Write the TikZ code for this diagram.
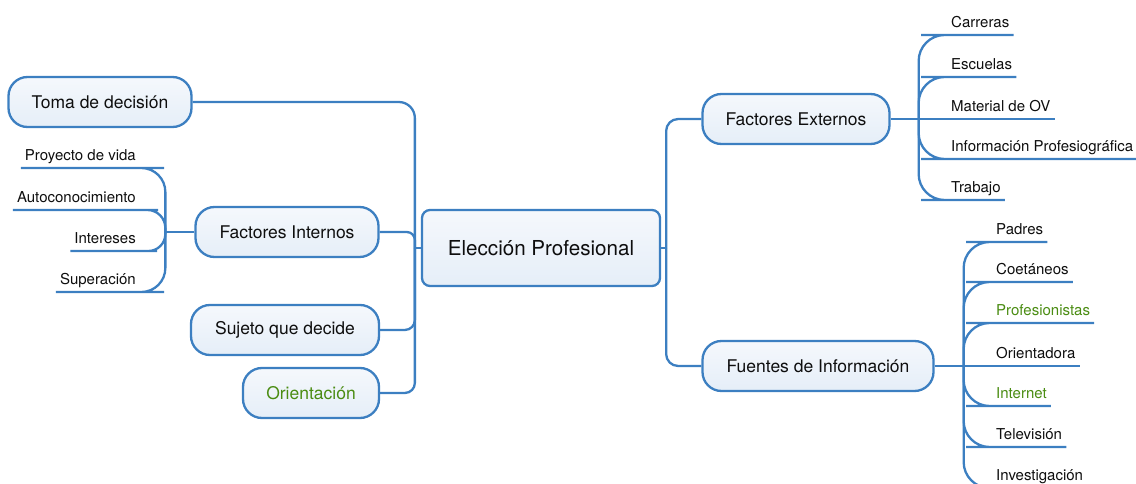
\documentclass[tikz,border=0pt]{standalone}
\usepackage{fontspec}
\setmainfont{TeX Gyre Heros}
\definecolor{lnblue}{HTML}{3C7FC1}
\definecolor{fillA}{HTML}{F5F8FC}
\definecolor{fillB}{HTML}{E5EEF8}
\definecolor{txt}{HTML}{0E0E0E}
\definecolor{grn}{HTML}{4A8C12}
\begin{document}
\begin{tikzpicture}[x=1pt,y=-1pt,
  conn/.style={draw=lnblue,line width=2.3pt},
  topic/.style={draw=lnblue,line width=2.3pt,rounded corners=19pt,top color=fillA,bottom color=fillB,
    minimum height=50pt,inner sep=0pt,text=txt,font=\fontsize{17.5}{20}\selectfont},
  central/.style={topic,rounded corners=8pt,minimum height=76pt,font=\fontsize{20.6}{24}\selectfont},
  leaf/.style={inner xsep=4pt,inner ysep=3pt,text height=11pt,text depth=4pt,text=txt,
    font=\fontsize{15}{18}\selectfont},
  leafR/.style={leaf,anchor=south west},
  leafL/.style={leaf,anchor=south east}]
\useasboundingbox (0,0) rectangle (1136,484);
\clip (0,0) rectangle (1136,484);
% main nodes
\node[central,minimum width=238pt] (ep) at (541,248) {Elección Profesional};
\node[topic,minimum width=183pt] (tm) at (100,102) {Toma de decisión};
\node[topic,minimum width=183pt] (fi) at (287,232) {Factores Internos};
\node[topic,minimum width=188pt] (sq) at (285,330) {Sujeto que decide};
\node[topic,minimum width=136pt,text=grn] (on) at (311,393) {Orientación};
\node[topic,minimum width=187pt] (fe) at (796,119) {Factores Externos};
\node[topic,minimum width=231pt] (fu) at (818,366) {Fuentes de Información};
% junctions
\coordinate (lj) at ([xshift=-6pt]ep.west);
\coordinate (rj) at ([xshift=5pt]ep.east);
\coordinate (fej) at ([xshift=28pt]fe.east);
\coordinate (fuj) at ([xshift=29pt]fu.east);
\coordinate (fij) at ([xshift=-29pt]fi.west);
% central connectors
\draw[conn,rounded corners=16pt] (tm.east) -| (lj);
\draw[conn,rounded corners=8pt] (fi.east) -| (lj);
\draw[conn,rounded corners=10pt] (sq.east) -| (lj);
\draw[conn,rounded corners=10pt] (on.east) -| (lj);
\draw[conn] (lj) -- (ep.west);
\draw[conn,rounded corners=12pt] (fe.west) -| (rj);
\draw[conn,rounded corners=12pt] (fu.west) -| (rj);
\draw[conn] (ep.east) -- (rj);
% Factores Externos leaves
\node[leafR] (c1) at (947,35) {Carreras};
\node[leafR] (c2) at (947,77) {Escuelas};
\node[leafR] (c3) at (947,119) {Material de OV};
\node[leafR] (c4) at (947,159) {Información Profesiográfica};
\node[leafR] (c5) at (947,200) {Trabajo};
\draw[conn] (fe.east) -- (fej);
\foreach \n in {c1,c2,c4,c5}{\draw[conn,rounded corners=26pt] (fej) |- (\n.south west) -- (\n.south east);}
\draw[conn] (fej) -- (c3.south west) -- (c3.south east);
% Fuentes leaves
\node[leafR] (f1) at (992,242) {Padres};
\node[leafR] (f2) at (992,282) {Coetáneos};
\node[leafR,text=grn] (f3) at (992,323) {Profesionistas};
\node[leafR] (f4) at (992,366) {Orientadora};
\node[leafR,text=grn] (f5) at (992,406) {Internet};
\node[leafR] (f6) at (992,447) {Televisión};
\node[leafR] (f7) at (992,488) {Investigación};
\draw[conn] (fu.east) -- (fuj);
\foreach \n in {f1,f2,f3,f5,f6,f7}{\draw[conn,rounded corners=26pt] (fuj) |- (\n.south west) -- (\n.south east);}
\draw[conn] (fuj) -- (f4.south west) -- (f4.south east);
% Factores Internos leaves
\node[leafL] (i1) at (140,168) {Proyecto de vida};
\node[leafL] (i2) at (140,210) {Autoconocimiento};
\node[leafL] (i3) at (140,251) {Intereses};
\node[leafL] (i4) at (140,292) {Superación};
\draw[conn] (fi.west) -- (fij);
\draw[conn,rounded corners=24pt] (fij) |- (i1.south east) -- (i1.south west);
\draw[conn,rounded corners=18pt] (fij) |- (i2.south east) -- (i2.south west);
\draw[conn,rounded corners=17pt] (fij) |- (i3.south east) -- (i3.south west);
\draw[conn,rounded corners=24pt] (fij) |- (i4.south east) -- (i4.south west);
\end{tikzpicture}
\end{document}
